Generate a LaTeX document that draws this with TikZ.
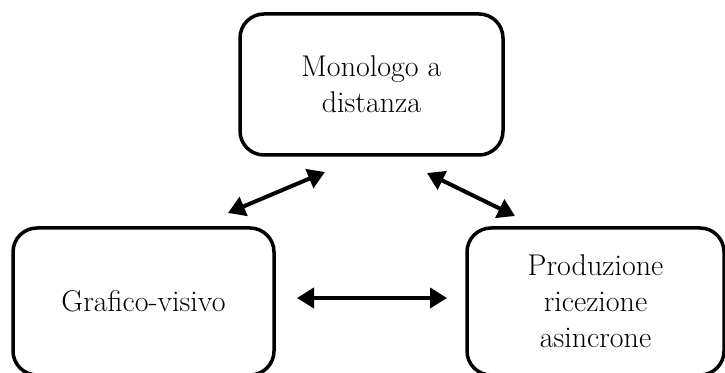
\documentclass[tikz,border=0pt]{standalone}
\usepackage{fontspec}
\usetikzlibrary{arrows.meta}

\begin{document}
\begin{tikzpicture}[x=1pt,y=1pt,
    box/.style = {draw, line width=3.5pt, rounded corners=24pt, align=center,
                  font=\fontsize{30}{36}\selectfont},
    link/.style = {{Triangle[length=17pt,width=20pt]}-{Triangle[length=17pt,width=20pt]}, line width=4pt}]
\useasboundingbox (0,0) rectangle (725,372);

\node[box, minimum width=263pt, minimum height=141pt] (mono) at (371.5,287.5) {Monologo a\\distanza};
\node[box, minimum width=261pt, minimum height=147pt] (graf) at (143.5,70.5) {Grafico-visivo};
\node[box, minimum width=257pt, minimum height=147pt] (prod) at (595.5,70.5) {Produzione\\ricezione\\asincrone};

\coordinate (mono_l) at (325,200);
\coordinate (graf_t) at (228,159);
\coordinate (mono_r) at (427,199);
\coordinate (prod_t) at (515,156);
\coordinate (graf_r) at (297,74);
\coordinate (prod_l) at (447,74);

\path[link] (graf_t) edge (mono_l)
    (mono_r) edge (prod_t)
    (graf_r) edge (prod_l);
\end{tikzpicture}
\end{document}
